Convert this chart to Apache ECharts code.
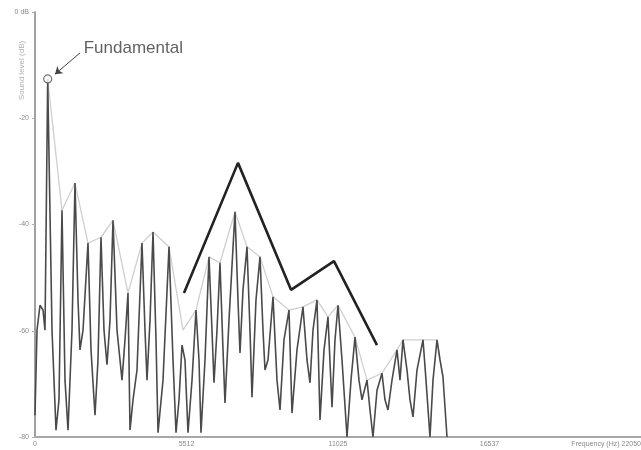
<!DOCTYPE html>
<html>
<head>
<meta charset="utf-8">
<script src="https://cdn.jsdelivr.net/npm/echarts@6/dist/echarts.min.js"></script>
<style>
  html, body { margin: 0; padding: 0; background: #ffffff; }
  #chart { width: 641px; height: 450px; }
</style>
</head>
<body>
<div id="chart"></div>
<script>
// Harmonic spectrum of a sung vowel: frequency (Hz) vs level (dB)
const spectrum = [
  [0, -75.9], [73, -59.9], [182, -55.2], [291, -56.1], [364, -59.9], [462, -12.6],
  [619, -59.9], [764, -78.7], [873, -73.0], [982, -37.3], [1092, -69.3], [1201, -78.7],
  [1346, -59.9], [1455, -32.2], [1565, -54.2], [1637, -63.6], [1747, -59.9], [1928, -43.5],
  [2038, -63.6], [2183, -75.9], [2292, -65.5], [2401, -42.4], [2511, -59.9], [2620, -66.4],
  [2729, -58.0], [2838, -39.2], [2984, -59.9], [3166, -69.3], [3275, -61.7], [3384, -52.9],
  [3457, -78.7], [3566, -73.0], [3711, -67.4], [3893, -43.5], [4003, -59.9], [4075, -69.3],
  [4185, -58.0], [4294, -41.4], [4403, -61.7], [4476, -79.2], [4658, -69.3], [4876, -44.2],
  [5022, -65.5], [5131, -79.2], [5240, -73.0], [5349, -62.7], [5458, -65.5], [5567, -79.2],
  [5713, -69.3], [5858, -56.1], [5967, -65.5], [6040, -79.2], [6186, -65.5], [6331, -46.1],
  [6440, -59.9], [6513, -69.8], [6622, -59.9], [6731, -47.2], [6841, -63.6], [6913, -73.6],
  [7059, -58.0], [7277, -37.6], [7386, -54.2], [7459, -64.2], [7568, -52.3], [7714, -44.2],
  [7823, -59.9], [7896, -72.5], [8041, -54.2], [8187, -46.1], [8296, -59.9], [8369, -67.4],
  [8478, -65.5], [8660, -53.6], [8805, -69.3], [8915, -74.9], [9060, -61.7], [9242, -56.1],
  [9351, -75.5], [9533, -63.6], [9751, -55.5], [9897, -65.5], [10006, -69.8], [10115, -59.9],
  [10261, -54.2], [10370, -76.8], [10516, -63.6], [10661, -57.4], [10807, -74.4], [10916, -61.7],
  [11025, -55.2], [11171, -65.5], [11353, -80.0], [11498, -69.3], [11644, -61.2], [11789, -69.3],
  [11898, -73.0], [12080, -69.3], [12189, -74.9], [12298, -80.0], [12444, -71.2], [12626, -68.0],
  [12735, -73.0], [12844, -74.9], [12990, -69.3], [13172, -63.6], [13281, -69.3], [13390, -61.7],
  [13536, -67.4], [13645, -73.0], [13754, -76.2], [13899, -67.4], [14118, -61.7], [14227, -69.3],
  [14372, -80.0], [14482, -69.3], [14627, -61.7], [14736, -65.5], [14845, -68.7], [14991, -80.0]
];

// Peak envelope joining the harmonic maxima
const envelope = [
  [462, -12.6], [982, -37.3], [1455, -32.2], [1928, -43.5], [2401, -42.4], [2838, -39.2],
  [3384, -52.9], [3893, -43.5], [4294, -41.4], [4876, -44.2], [5385, -59.9], [5858, -56.1],
  [6331, -46.1], [6731, -47.2], [7277, -37.6], [7714, -44.2], [8187, -46.1], [8660, -53.6],
  [9242, -56.1], [9751, -55.5], [10261, -54.2], [10661, -57.4], [11025, -55.2], [11644, -61.2],
  [12080, -69.3], [12626, -68.0], [13172, -63.6], [13390, -61.7], [14118, -61.7], [14627, -61.7],
  [14845, -68.7]
];

// Schematic formant outline labelled "F"
const formantOutline = [
  [5421, -52.9], [7386, -28.4], [9315, -52.3], [10879, -46.9], [12444, -62.7]
];

// Fundamental marker and its callout
const fundamentalPeak = [462, -12.6];
const calloutArrow = [[1637, -7.7], [728, -11.7]];
const calloutText = [1700, -6.8];

// Axis ticks
const xTickValues = [0, 5512.5, 11025, 16537.5, 22050];
const xTickLabels = ['0', '5512', '11025', '16537', 'Frequency (Hz) 22050'];
const yTickValues = [-80, -60, -40, -20, 0];
const yTickLabels = ['-80', '-60', '-40', '-20', '0 dB'];

function tickText(values, labels, v) {
  for (let i = 0; i < values.length; i++) {
    if (Math.abs(values[i] - v) < 1e-6) return labels[i];
  }
  return '';
}

const chart = echarts.init(document.getElementById('chart'), null, { renderer: 'canvas' });

chart.setOption({
  animation: false,
  backgroundColor: '#ffffff',
  grid: { left: 35, right: 0, top: 12, bottom: 13, containLabel: false, outerBoundsMode: 'none' },
  xAxis: {
    type: 'value',
    min: 0,
    max: 22050,
    interval: 5512.5,
    axisLine: { onZero: false, lineStyle: { color: '#a8a8a8', width: 2 } },
    axisTick: { show: false },
    splitLine: { show: false },
    axisLabel: {
      color: '#8a8a8a',
      fontSize: 7,
      margin: 4,
      fontFamily: 'Liberation Sans',
      alignMaxLabel: 'right',
      formatter: v => tickText(xTickValues, xTickLabels, v)
    }
  },
  yAxis: {
    type: 'value',
    min: -80,
    max: 0,
    interval: 20,
    name: 'Sound level (dB)',
    nameLocation: 'end',
    nameRotate: 90,
    nameGap: -88,
    nameTextStyle: {
      color: '#b0b0b0', fontSize: 8, fontFamily: 'Liberation Sans',
      verticalAlign: 'bottom', padding: [0, 0, 9, 0]
    },
    axisLine: { show: true, onZero: false, lineStyle: { color: '#a0a0a0', width: 2 } },
    axisTick: { show: true, length: 3, lineStyle: { color: '#b0b0b0' } },
    splitLine: { show: false },
    axisLabel: {
      color: '#8a8a8a',
      fontSize: 7,
      margin: 6,
      fontFamily: 'Liberation Sans',
      formatter: v => tickText(yTickValues, yTickLabels, v)
    }
  },
  series: [
    {
      name: 'envelope',
      type: 'line',
      data: envelope,
      symbol: 'none',
      lineStyle: { color: '#cfcfcf', width: 1.3 },
      z: 1
    },
    {
      name: 'spectrum',
      type: 'line',
      data: spectrum,
      symbol: 'none',
      lineStyle: { color: '#4a4a4a', width: 1.6 },
      z: 2
    },
    {
      name: 'formant',
      type: 'line',
      data: formantOutline.map((p, i) => ({
        value: p,
        label: i === 1 ? { show: true, formatter: 'F', position: 'top', distance: 9,
          color: '#333', fontSize: 17, fontFamily: 'Liberation Sans' } : { show: false }
      })),
      symbol: 'none',
      lineStyle: { color: '#222222', width: 2.6 },
      z: 3
    },
    {
      name: 'fundamental',
      type: 'scatter',
      data: [fundamentalPeak],
      symbol: 'circle',
      symbolSize: 8,
      itemStyle: { color: '#ffffff', borderColor: '#555555', borderWidth: 1.2 },
      z: 4
    },
    {
      name: 'callout',
      type: 'lines',
      coordinateSystem: 'cartesian2d',
      data: [{ coords: calloutArrow }],
      symbol: ['none', 'arrow'],
      symbolSize: 7,
      lineStyle: { color: '#444444', width: 1, opacity: 1 },
      z: 4
    },
    {
      name: 'calloutText',
      type: 'scatter',
      data: [calloutText],
      symbolSize: 0,
      label: {
        show: true,
        position: 'right',
        distance: 2,
        formatter: 'Fundamental',
        color: '#3a3a3a',
        fontSize: 17,
        fontFamily: 'Liberation Sans'
      },
      z: 4
    }
  ]
});
</script>
</body>
</html>
